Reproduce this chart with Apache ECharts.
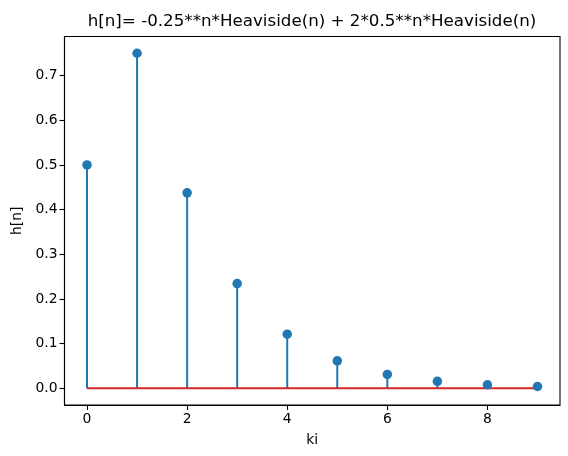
<!DOCTYPE html>
<html><head><meta charset="utf-8">
<script src="https://cdn.jsdelivr.net/npm/echarts@6/dist/echarts.min.js"></script>
<style>html,body{margin:0;padding:0;background:#fff}#c{width:568px;height:456px}</style>
</head><body><div id="c"></div>
<script>
const n = [0,1,2,3,4,5,6,7,8,9];
const h = [0.5, 0.75, 0.4375, 0.2344, 0.1211, 0.0615, 0.0310, 0.0156, 0.0078, 0.0039];
const xTicks = [0,2,4,6,8];
const yTicks = [0,0.1,0.2,0.3,0.4,0.5,0.6,0.7];
const titleText = 'h[n]= -0.25**n*Heaviside(n) + 2*0.5**n*Heaviside(n)';

const chart = echarts.init(document.getElementById('c'), null, {renderer:'canvas'});
const font = 'DejaVu Sans';
const pts = n.map((v,i)=>[v,h[i]]);
chart.setOption({
  animation:false,
  grid:{left:64.5,right:8,top:36.5,bottom:51,show:true,borderColor:'#000',borderWidth:1.1,backgroundColor:'transparent',containLabel:false,outerBoundsMode:'none'},
  graphic:[
    {type:'text',style:{text:titleText,x:312,y:22,font:'16.7px "DejaVu Sans"',fill:'#000',align:'center',verticalAlign:'middle'}}
  ],
  xAxis:{type:'value',min:-0.45,max:9.45,
    name:'ki',nameLocation:'middle',nameGap:28,nameTextStyle:{fontFamily:font,fontSize:13.9,color:'#000'},
    axisLine:{show:true,onZero:false,lineStyle:{color:'#000',width:1.1}},splitLine:{show:false},
    axisTick:{show:true,inside:false,length:5,lineStyle:{color:'#000',width:1.1},customValues:xTicks},
    axisLabel:{color:'#000',fontFamily:font,fontSize:13.9,margin:7,customValues:xTicks,formatter:v=>String(Math.round(v))}},
  yAxis:{type:'value',min:-0.0375,max:0.7875,
    name:'h[n]',nameLocation:'middle',nameGap:37,nameRotate:90,nameTextStyle:{fontFamily:font,fontSize:13.9,color:'#000'},
    axisLine:{show:true,onZero:false,lineStyle:{color:'#000',width:1.1}},splitLine:{show:false},
    axisTick:{show:true,inside:false,length:5,lineStyle:{color:'#000',width:1.1},customValues:yTicks},
    axisLabel:{color:'#000',fontFamily:font,fontSize:13.9,margin:7,customValues:yTicks,formatter:v=>v.toFixed(1)}},
  series:[
    {type:'custom',z:1,data:pts,renderItem:(params,api)=>{
      const p0=api.coord([api.value(0),0]);const p1=api.coord([api.value(0),api.value(1)]);
      return {type:'line',shape:{x1:p0[0],y1:p0[1],x2:p1[0],y2:p1[1]},style:{stroke:'#1f77b4',lineWidth:2}};
    }},
    {type:'line',z:2,data:[[n[0],0],[n[n.length-1],0]],symbol:'none',lineStyle:{color:'#d62728',width:2},silent:true},
    {type:'scatter',z:3,data:pts,symbol:'circle',symbolSize:9.5,itemStyle:{color:'#1f77b4',opacity:1}}
  ]
});
</script></body></html>
